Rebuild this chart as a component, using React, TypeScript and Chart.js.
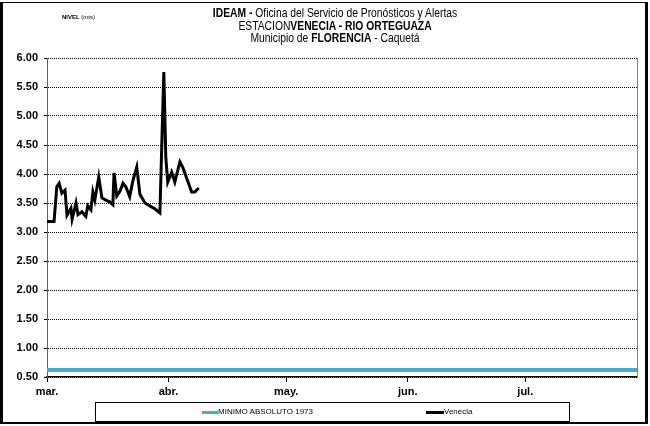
import React, { useEffect, useRef } from "react";
import { Chart, registerables } from "chart.js";
Chart.register(...registerables);

// Month ticks (days since 1 March)
const monthTicks = [0, 31, 61, 92, 122];
const monthLabels = ["mar.", "abr.", "may.", "jun.", "jul."];
const xMax = 150.5;

const yMin = 0.5;
const yMax = 6;
const yStep = 0.5;

const minimoLabel = "MINIMO ABSOLUTO 1973";
const minimoDays = [0, xMax];
const minimoLevels = [0.62, 0.62];

const venLabel = "Venecia";
const venDays = [
  0, 1.8, 2.5, 3.1, 3.8, 4.6, 5.1, 6.1, 6.4, 7.4, 7.9, 8.9, 9.9, 10.4, 11.2,
  11.7, 12.2, 13.2, 14.0, 15.0, 16.0, 16.8, 17.1, 17.8, 18.6, 19.4, 20.1, 21.1,
  21.9, 22.9, 23.7, 25.0, 26.2, 27.5, 28.8, 29.8, 30.3, 30.8, 31.8, 32.6, 33.9,
  34.6, 36.9, 37.7, 38.7,
];
const venLevels = [
  3.18, 3.18, 3.78, 3.84, 3.67, 3.72, 3.29, 3.41, 3.22, 3.5, 3.3, 3.35, 3.27,
  3.45, 3.38, 3.69, 3.55, 3.95, 3.59, 3.55, 3.52, 3.47, 4.02, 3.62, 3.7, 3.84,
  3.78, 3.61, 3.88, 4.12, 3.65, 3.5, 3.45, 3.4, 3.33, 5.76, 4.29, 3.86, 4.03,
  3.86, 4.21, 4.12, 3.69, 3.69, 3.76,
];

const minimoColor = "#4bacc6";
const sans = "'Liberation Sans', Arial, sans-serif";

const plotBorder = {
  id: "plotBorder",
  afterDraw(chart: any) {
    const { ctx, chartArea } = chart;
    ctx.save();
    ctx.strokeStyle = "#808080";
    ctx.lineWidth = 1;
    ctx.beginPath();
    ctx.moveTo(Math.round(chartArea.right) + 0.5, chartArea.top);
    ctx.lineTo(Math.round(chartArea.right) + 0.5, chartArea.bottom);
    ctx.stroke();
    ctx.restore();
  },
};

const narrowLine: React.CSSProperties = {
  display: "block",
  transform: "scaleX(0.86)",
  transformOrigin: "center",
  whiteSpace: "nowrap",
};

export default function App() {
  const ref = useRef<HTMLCanvasElement>(null);
  useEffect(() => {
    const chart = new Chart(ref.current!, {
      type: "line",
      data: {
        datasets: [
          {
            label: venLabel,
            data: venDays.map((d, i) => ({ x: d, y: venLevels[i] })),
            borderColor: "#000",
            borderWidth: 3,
            pointRadius: 0,
            tension: 0,
            order: 0,
          },
          {
            label: minimoLabel,
            data: minimoDays.map((d, i) => ({ x: d, y: minimoLevels[i] })),
            borderColor: minimoColor,
            borderWidth: 4,
            pointRadius: 0,
            order: 1,
          },
        ],
      },
      options: {
        animation: false,
        responsive: false,
        maintainAspectRatio: false,
        layout: { padding: { left: 0, top: 58, right: 13, bottom: 0 } },
        plugins: { legend: { display: false }, tooltip: { enabled: false } },
        scales: {
          x: {
            type: "linear",
            min: 0,
            max: xMax,
            afterBuildTicks: (s: any) => {
              s.ticks = monthTicks.map((v) => ({ value: v }));
            },
            afterFit: (s: any) => {
              s.height = 49;
            },
            ticks: {
              autoSkip: false,
              maxRotation: 0,
              padding: 3,
              color: "#000",
              font: { family: sans, size: 11, weight: "bold" },
              callback: (v: any) => monthLabels[monthTicks.indexOf(v)] ?? "",
            },
            grid: { drawOnChartArea: false, drawTicks: true, tickLength: 5, color: "#000" },
            border: { color: "#000", width: 1.5 },
          },
          y: {
            min: yMin,
            max: yMax,
            afterFit: (s: any) => {
              s.width = 47;
            },
            ticks: {
              stepSize: yStep,
              padding: 6,
              color: "#000",
              font: { family: sans, size: 11, weight: "bold" },
              callback: (v: any) => Number(v).toFixed(2),
            },
            grid: { color: "#000", lineWidth: 1, tickLength: 3 },
            border: { color: "#606060", width: 1, dash: [1, 1] },
          },
        },
      },
      plugins: [plotBorder],
    });
    return () => chart.destroy();
  }, []);

  return (
    <div
      style={{
        position: "fixed",
        left: 0,
        top: 0,
        width: 650,
        height: 426,
        background: "#fff",
        overflow: "hidden",
      }}
    >
      <canvas ref={ref} width={650} height={426} style={{ position: "absolute", left: 0, top: 0 }} />
      {/* outer frame */}
      <div
        style={{
          position: "absolute",
          left: 0,
          top: 2,
          width: 648,
          height: 422,
          borderLeft: "3px solid #000",
          borderRight: "3px solid #000",
          borderTop: "1px solid #000",
          borderBottom: "2px solid #000",
          boxSizing: "border-box",
          pointerEvents: "none",
        }}
      />
      <div
        style={{
          position: "absolute",
          left: 62,
          top: 14,
          fontFamily: sans,
          fontSize: 6,
          color: "#000",
          whiteSpace: "nowrap",
        }}
      >
        <b>NIVEL</b> (mts)
      </div>
      <div
        style={{
          position: "absolute",
          left: 135,
          width: 400,
          top: 7,
          textAlign: "center",
          fontFamily: sans,
          fontSize: 12,
          lineHeight: "12.5px",
          color: "#000",
        }}
      >
        <span style={narrowLine}>
          <b>IDEAM -</b> Oficina del Servicio de Pronósticos y Alertas
        </span>
        <span style={narrowLine}>
          ESTACION<b>VENECIA - RIO ORTEGUAZA</b>
        </span>
        <span style={narrowLine}>
          Municipio de <b>FLORENCIA</b> - Caquetá
        </span>
      </div>
      {/* legend box */}
      <div
        style={{
          position: "absolute",
          left: 95,
          top: 402,
          width: 475,
          height: 20,
          border: "1px solid #000",
          boxSizing: "border-box",
          fontFamily: sans,
          fontSize: 8,
          color: "#000",
        }}
      >
        <div style={{ position: "absolute", left: 106, top: 8, width: 16, height: 3, background: minimoColor }} />
        <div style={{ position: "absolute", left: 122, top: 4, whiteSpace: "nowrap" }}>{minimoLabel}</div>
        <div style={{ position: "absolute", left: 330, top: 8, width: 18, height: 3, background: "#000" }} />
        <div style={{ position: "absolute", left: 348, top: 4, whiteSpace: "nowrap" }}>{venLabel}</div>
      </div>
    </div>
  );
}
